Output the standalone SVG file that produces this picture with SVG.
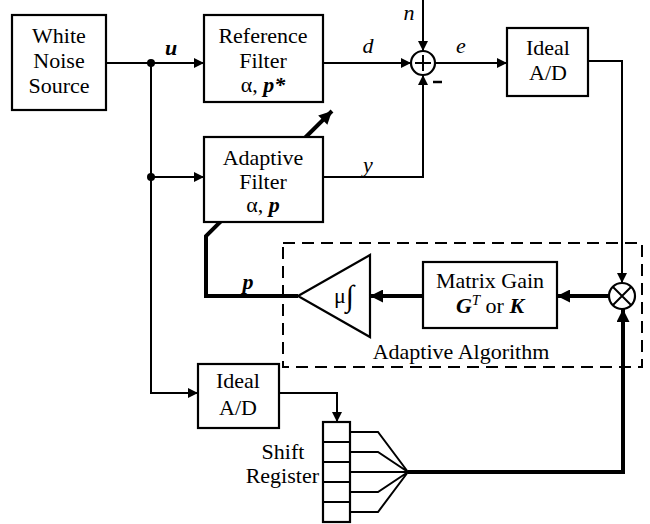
<svg xmlns="http://www.w3.org/2000/svg" width="650" height="524" viewBox="0 0 650 524">
<defs>
<style>
.box{fill:#fff;stroke:#000;stroke-width:2.2}
.ln{fill:none;stroke:#000;stroke-width:2}
.thk{fill:none;stroke:#000;stroke-width:4}
text{font-family:'Liberation Serif','Times New Roman',Times,'DejaVu Serif','Noto Serif',serif;font-size:22px;fill:#000;text-anchor:middle}
.i{font-style:italic}
.bi{font-style:italic;font-weight:bold}
</style>
<marker id="a" viewBox="0 0 10 10" refX="10" refY="5" markerWidth="12" markerHeight="10" markerUnits="userSpaceOnUse" orient="auto"><path d="M0,0L10,5L0,10z"/></marker>
<marker id="ab" viewBox="0 0 10 10" refX="10" refY="5" markerWidth="14" markerHeight="13" markerUnits="userSpaceOnUse" orient="auto"><path d="M0,0L10,5L0,10z"/></marker>
</defs>
<rect width="650" height="524" fill="#fff"/>
<g id="connectors">
<path class="ln" d="M106,63H151"/>
<path class="ln" d="M151,63H204" marker-end="url(#a)"/>
<path class="ln" d="M151,63V393H198" marker-end="url(#a)"/>
<path class="ln" d="M151,177H204" marker-end="url(#a)"/>
<circle cx="151" cy="63" r="4"/>
<circle cx="151" cy="177" r="4"/>
<path class="ln" d="M323,63H411" marker-end="url(#a)"/>
<path class="ln" d="M423,0V51" marker-end="url(#a)"/>
<path class="ln" d="M323,177H423V75" marker-end="url(#a)"/>
<path class="ln" d="M435,63H507" marker-end="url(#a)"/>
<path class="ln" d="M588,61H622V283" marker-end="url(#a)"/>
<path class="thk" d="M609,296H557" marker-end="url(#ab)"/>
<path class="thk" d="M423,296H370" marker-end="url(#ab)"/>
<path class="thk" d="M298,296H206V236L332,111" marker-end="url(#ab)"/>
<path class="ln" d="M279,393H337V422" marker-end="url(#a)"/>
<path class="ln" d="M350,432H378L408,472M350,452H378L408,472M350,472H408M350,492H378L408,472M350,512H378L408,472"/>
<path class="thk" d="M408,472H623V309" marker-end="url(#ab)"/>
</g>
<g id="white-noise"><rect class="box" x="12" y="15" width="94" height="95"/>
<text x="59" y="43">White</text><text x="59" y="68">Noise</text><text x="59" y="93">Source</text></g>
<g id="reference-filter"><rect class="box" x="204" y="15" width="119" height="87"/>
<text x="263" y="43">Reference</text><text x="263" y="68">Filter</text><text x="263" y="92">α, <tspan class="bi">p*</tspan></text></g>
<g id="adaptive-filter"><rect class="box" x="204" y="137" width="119" height="85"/>
<text x="263" y="165">Adaptive</text><text x="263" y="189">Filter</text><text x="263" y="212">α, <tspan class="bi">p</tspan></text></g>
<g id="sum"><circle cx="423" cy="63" r="12" fill="#fff" stroke="#000" stroke-width="2.2"/>
<path class="ln" d="M423,55V71M415,63H431"/>
<path d="M433,82H442" stroke="#000" stroke-width="2.5"/></g>
<g id="ideal-ad-1"><rect class="box" x="507" y="28" width="81" height="68"/>
<text x="548" y="55">Ideal</text><text x="548" y="80">A/D</text></g>
<g id="multiplier"><circle cx="622" cy="296" r="13" fill="#fff" stroke="#000" stroke-width="2.2"/>
<path class="ln" d="M613,287L631,305M631,287L613,305"/></g>
<g id="adaptive-algorithm"><rect x="283" y="243" width="359" height="124" fill="none" stroke="#000" stroke-width="2" stroke-dasharray="12,7"/>
<text x="461" y="359">Adaptive Algorithm</text></g>
<g id="matrix-gain"><rect class="box" x="423" y="262" width="134" height="66"/>
<text x="490" y="288">Matrix Gain</text><text x="490" y="313"><tspan class="bi">G</tspan><tspan class="i" font-size="15" dy="-8">T</tspan><tspan dy="8"> or </tspan><tspan class="bi">K</tspan></text></g>
<g id="integrator"><path d="M298,296L370,255V337Z" fill="#fff" stroke="#000" stroke-width="2.2"/>
<text x="344" y="303">μ<tspan font-size="30" dy="3">∫</tspan></text></g>
<g id="ideal-ad-2"><rect class="box" x="198" y="364" width="81" height="64"/>
<text x="238" y="388">Ideal</text><text x="238" y="415">A/D</text></g>
<g id="shift-register"><rect class="box" x="323" y="422" width="27" height="100"/>
<path class="ln" d="M323,442H350M323,462H350M323,482H350M323,502H350"/>
<text x="283" y="459">Shift</text><text x="319" y="483" style="text-anchor:end">Register</text></g>
<g id="labels">
<text class="bi" x="171" y="55">u</text>
<text class="i" x="368" y="53">d</text>
<text class="i" x="409" y="20">n</text>
<text class="i" x="461" y="53">e</text>
<text class="i" x="368" y="172">y</text>
<text class="bi" x="248" y="289">p</text>
</g>
</svg>
